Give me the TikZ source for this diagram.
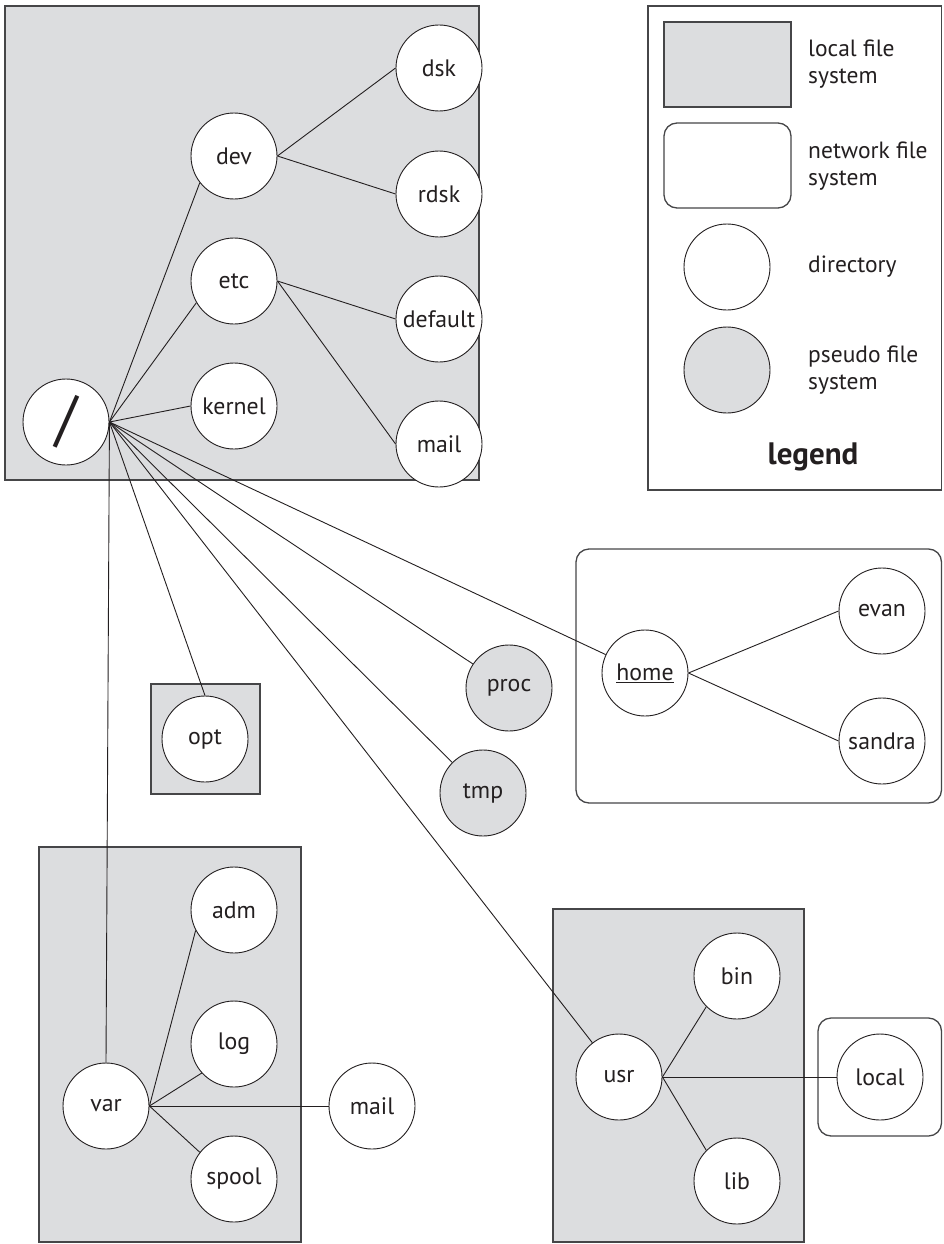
\documentclass[tikz,border=0pt]{standalone}
\usepackage{fontspec}
\setmainfont{PT Sans}
\definecolor{fsgray}{RGB}{220,221,223}
\definecolor{linec}{RGB}{35,31,32}
\definecolor{boxc}{RGB}{70,70,72}
\begin{document}
\begin{tikzpicture}[x=1pt,y=-1pt,
  dir/.style={circle,draw=linec,fill=white,line width=0.9pt,minimum size=86pt,
    inner sep=0pt,text=linec,font=\fontsize{23.8}{27}\selectfont},
  pseudo/.style={dir,fill=fsgray},
  localfs/.style={draw=boxc,fill=fsgray,line width=1.3pt},
  netfs/.style={draw=boxc,fill=white,line width=1.3pt,rounded corners=13pt},
  legendbox/.style={draw=boxc,fill=white,line width=1.3pt},
  link/.style={draw=linec,line width=0.9pt},
  lbl/.style={anchor=west,align=left,inner sep=0pt,text=linec,
    font=\fontsize{23.5}{27}\selectfont}
]
\useasboundingbox (0,0) rectangle (943,1244);

% file system boxes
\draw[localfs] (5,6) rectangle (479,480);
\draw[localfs] (151,684) rectangle (260,794);
\draw[localfs] (39,847) rectangle (301,1242);
\draw[localfs] (553,909) rectangle (804,1242);
\draw[netfs] (576,549) rectangle (941.5,803);
\draw[netfs] (818,1018) rectangle (941.5,1136);

% legend
\draw[legendbox] (648,6) rectangle (941.5,490);
\draw[localfs] (664,22) rectangle (791,107);
\draw[netfs] (664,123) rectangle (791,208);
\node[dir] (ldir) at (727,267) {};
\node[pseudo] (lpseudo) at (727,370) {};
\node[lbl] (llocal) at (808,64) {local file\\system};
\node[lbl] (lnet) at (808,166) {network file\\system};
\node[lbl] (ldirtxt) at (808,267) {directory};
\node[lbl] (lpseudotxt) at (808,370) {pseudo file\\system};
\node[text=linec,inner sep=0pt,font=\fontsize{31}{34}\selectfont\bfseries] (legend) at (813,457) {legend};

% directories
\node[dir,font=\fontsize{62}{62}\selectfont] (root) at (66,422) {/};
\node[dir] (dev) at (234,156) {dev};
\node[dir] (dsk) at (439,68) {dsk};
\node[dir] (rdsk) at (439,194) {rdsk};
\node[dir] (etc) at (234,281) {etc};
\node[dir] (default) at (439,319) {default};
\node[dir] (kernel) at (234,406) {kernel};
\node[dir] (mail) at (439,444) {mail};

\node[dir] (home) at (645,673) {\underline{home}};
\node[dir] (evan) at (882,611) {evan};
\node[dir] (sandra) at (882,741) {sandra};

\node[pseudo] (proc) at (509,688) {proc};
\node[pseudo] (tmp) at (483,793) {tmp};
\node[dir] (opt) at (205,739) {opt};

\node[dir] (var) at (106,1106) {var};
\node[dir] (adm) at (234,910) {adm};
\node[dir] (log) at (234,1044) {log};
\node[dir] (spool) at (234,1179) {spool};
\node[dir] (varmail) at (372,1106) {mail};

\node[dir] (usr) at (619,1077) {usr};
\node[dir] (bin) at (737,976) {bin};
\node[dir] (lib) at (737,1181) {lib};
\node[dir] (local) at (880,1077) {local};

% links
\draw[link] (root.east) -- (dev.218);
\draw[link] (root.east) -- (etc.210);
\draw[link] (root.east) -- (kernel.west);
\draw[link] (root.east) -- (home);
\draw[link] (root.east) -- (proc);
\draw[link] (root.east) -- (tmp);
\draw[link] (root.east) -- (usr);
\draw[link] (root.east) -- (opt.north);
\draw[link] (root.east) -- (var.north);
\draw[link] (dev.east) -- (dsk.west);
\draw[link] (dev.east) -- (rdsk.west);
\draw[link] (etc.east) -- (default.west);
\draw[link] (etc.east) -- (mail.west);
\draw[link] (home.east) -- (evan.west);
\draw[link] (home.east) -- (sandra.west);
\draw[link] (var.east) -- (adm.208);
\draw[link] (var.east) -- (log.222);
\draw[link] (var.east) -- (spool.142);
\draw[link] (var.east) -- (varmail.west);
\draw[link] (usr.east) -- (bin.south west);
\draw[link] (usr.east) -- (lib.north west);
\draw[link] (usr.east) -- (local.west);
\end{tikzpicture}
\end{document}
